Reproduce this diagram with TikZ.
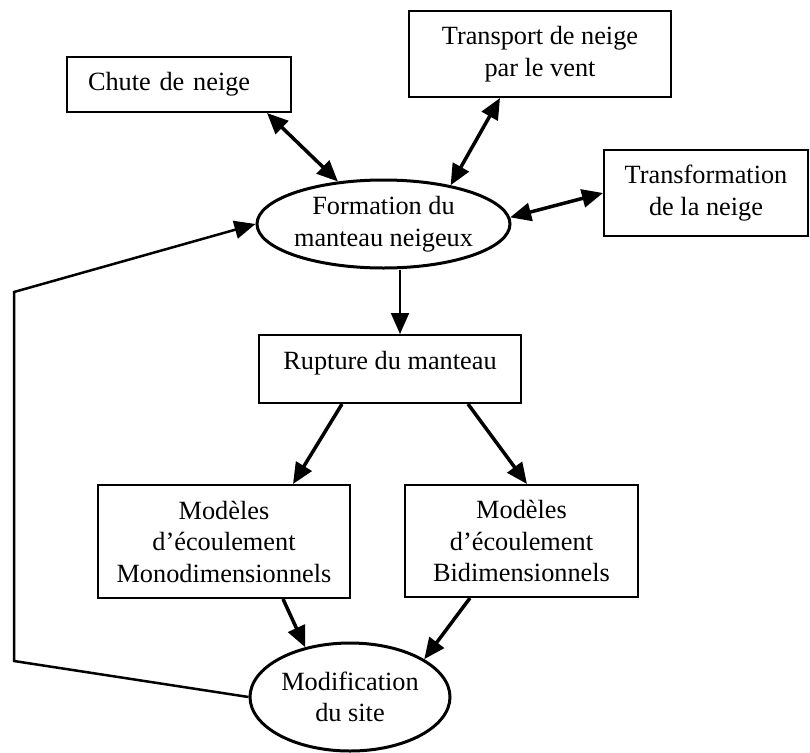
\documentclass[tikz,border=0pt]{standalone}
\usepackage{fontspec}
\setmainfont{Liberation Serif}
\usetikzlibrary{arrows.meta,shapes.geometric}
\begin{document}
\begin{tikzpicture}[x=1pt,y=-1pt,
  every node/.style={font=\fontsize{26.3}{31.5}\selectfont, inner sep=0pt},
  box/.style={draw, line width=2pt, rectangle, align=center},
  oval/.style={draw, line width=3pt, ellipse, align=center},
  arr/.style={line width=3.5pt, -{Triangle[length=21pt,width=18pt]}},
  darr/.style={line width=3.5pt, {Triangle[length=21pt,width=18pt]}-{Triangle[length=21pt,width=18pt]}},
  loop/.style={line width=2.5pt, line join=miter}]
\useasboundingbox (0,0) rectangle (810,752);
% boxes
\node[box, minimum width=224pt, minimum height=55pt, text width=182pt, align=left] (chute) at (179,84.5) {Chute de neige};
\node[box, minimum width=262pt, minimum height=86pt] (transp) at (540,54) {Transport de neige\\par le vent};
\node[box, minimum width=204pt, minimum height=86pt] (transf) at (706,193) {Transformation\\de la neige};
\node[oval, minimum width=253pt, minimum height=88pt] (form) at (383.5,224) {Formation du\\manteau neigeux};
\node[box, minimum width=262pt, minimum height=68pt, text height=18pt, text depth=18pt] (rupt) at (390,369) {Rupture du manteau};
\node[box, minimum width=252pt, minimum height=113pt] (mono) at (224,541.5) {Modèles\\d’écoulement\\Monodimensionnels};
\node[box, minimum width=233pt, minimum height=112pt] (bidim) at (521.5,541) {Modèles\\d’écoulement\\Bidimensionnels};
\node[oval, minimum width=200pt, minimum height=108pt] (modif) at (350,697) {Modification\\du site};
% connectors
\draw[darr] ([xshift=88pt]chute.south) -- (form.137);
\draw[darr] ([xshift=-40pt]transp.south) -- (form.30);
\draw[darr] (form.3) -- (transf.west);
\draw[line width=2pt, -{Triangle[length=21pt,width=18pt]}] ([xshift=16.5pt]form.south) -- ([xshift=10pt]rupt.north);
\draw[arr] ([xshift=-48pt]rupt.south) -- ([xshift=69pt]mono.north);
\draw[arr] ([xshift=78pt]rupt.south) -- ([xshift=5.5pt]bidim.north);
\draw[arr] ([xshift=59pt]mono.south) -- (modif.132);
\draw[arr] ([xshift=-51.5pt]bidim.south) -- (modif.27);
\coordinate (lb) at (14,661);
\coordinate (lt) at (14,292);
\draw[loop, -{Triangle[length=21pt,width=18pt]}] (modif.west) -- (lb) -- (lt) -- (form.west);
\end{tikzpicture}
\end{document}
